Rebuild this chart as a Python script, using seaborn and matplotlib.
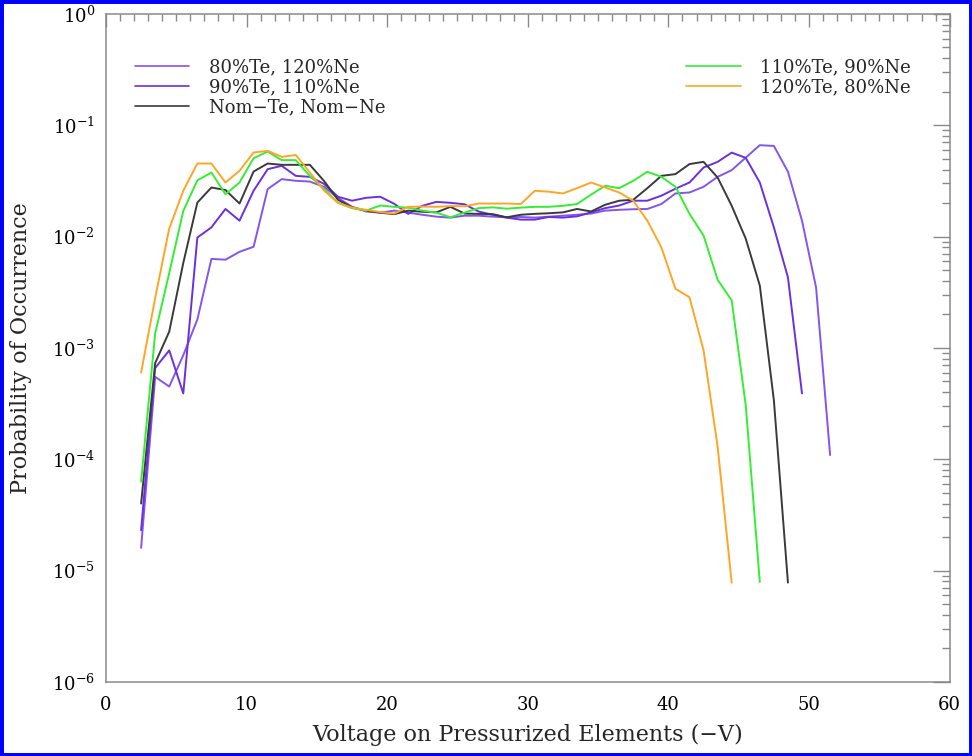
import pandas as pd
import matplotlib
matplotlib.use('Agg')
import matplotlib.pyplot as plt
import seaborn as sns
from matplotlib.patches import Rectangle
from matplotlib.lines import Line2D
from matplotlib.ticker import MultipleLocator, LogLocator, NullFormatter, FixedLocator

# Bin centres (-V)
volts = [2.5, 3.5, 4.5, 5.5, 6.5, 7.5, 8.5, 9.5, 10.5, 11.5,
         12.5, 13.5, 14.5, 15.5, 16.5, 17.5, 18.5, 19.5, 20.5, 21.5,
         22.5, 23.5, 24.5, 25.5, 26.5, 27.5, 28.5, 29.5, 30.5, 31.5,
         32.5, 33.5, 34.5, 35.5, 36.5, 37.5, 38.5, 39.5, 40.5, 41.5,
         42.5, 43.5, 44.5, 45.5, 46.5, 47.5, 48.5, 49.5, 50.5, 51.5]

# Probability of occurrence per case
p_80te = [1.6e-5, 5.5e-4, 4.5e-4, 8.6e-4, 1.8e-3, 6.3e-3, 6.2e-3, 7.3e-3, 8.1e-3, 0.0267,
          0.0328, 0.0317, 0.0312, 0.028, 0.0223, 0.0185, 0.0168, 0.0164, 0.0171, 0.0164,
          0.0157, 0.0151, 0.0148, 0.0154, 0.0154, 0.0151, 0.0149, 0.015, 0.0148, 0.0151,
          0.0154, 0.0157, 0.0161, 0.0171, 0.0174, 0.0176, 0.0177, 0.0196, 0.0244, 0.0249,
          0.028, 0.0344, 0.0395, 0.0512, 0.0662, 0.0652, 0.0383, 0.0139, 0.0035, 1.09e-4]
p_90te = [2.3e-5, 6.6e-4, 9.5e-4, 3.9e-4, 9.8e-3, 0.0121, 0.0177, 0.0139, 0.0258, 0.0403,
          0.0432, 0.0351, 0.0344, 0.0298, 0.0228, 0.021, 0.0223, 0.0228, 0.0197, 0.016,
          0.0189, 0.0205, 0.0201, 0.0195, 0.0168, 0.0157, 0.0148, 0.0142, 0.0142, 0.015,
          0.0148, 0.0152, 0.0165, 0.018, 0.019, 0.021, 0.021, 0.0233, 0.0269, 0.0306,
          0.0417, 0.0469, 0.0568, 0.0509, 0.0306, 0.0121, 0.0043, 3.9e-4]
p_nom = [4.0e-5, 7.3e-4, 1.4e-3, 5.8e-3, 0.0202, 0.0276, 0.0262, 0.0198, 0.0384, 0.0453,
         0.0441, 0.0441, 0.0441, 0.0317, 0.0214, 0.0183, 0.0171, 0.0164, 0.0159, 0.0171,
         0.0167, 0.0165, 0.0185, 0.0161, 0.016, 0.0159, 0.0149, 0.0157, 0.016, 0.0162,
         0.0165, 0.0177, 0.0168, 0.0193, 0.021, 0.0214, 0.0272, 0.0351, 0.0364, 0.0448,
         0.0469, 0.0339, 0.0189, 0.00957, 0.00363, 3.39e-4, 7.8e-6]
p_110te = [6.3e-5, 1.35e-3, 4.7e-3, 0.017, 0.032, 0.0376, 0.024, 0.0306, 0.0506, 0.058,
           0.0486, 0.0486, 0.035, 0.0269, 0.0201, 0.018, 0.0171, 0.019, 0.0185, 0.0182,
           0.0171, 0.0164, 0.0149, 0.0164, 0.018, 0.0183, 0.0178, 0.0182, 0.0185, 0.0185,
           0.0189, 0.0196, 0.0238, 0.0286, 0.0272, 0.0317, 0.0382, 0.0344, 0.028, 0.016,
           0.0102, 0.0041, 0.00267, 3.05e-4, 7.9e-6]
p_120te = [6.0e-4, 2.8e-3, 0.0118, 0.0258, 0.0453, 0.0453, 0.0306, 0.039, 0.0569, 0.0589,
           0.052, 0.054, 0.0376, 0.026, 0.0201, 0.0182, 0.0174, 0.0166, 0.0161, 0.0185,
           0.0186, 0.0185, 0.0188, 0.0187, 0.0198, 0.0198, 0.0198, 0.0196, 0.0258, 0.0253,
           0.0244, 0.0272, 0.0306, 0.0276, 0.0249, 0.021, 0.0139, 0.008, 0.00339, 0.00285,
           9.5e-4, 1.3e-4, 7.8e-6]

labels = ['80%Te, 120%Ne', '90%Te, 110%Ne', 'Nom\u2212Te, Nom\u2212Ne',
          '110%Te, 90%Ne', '120%Te, 80%Ne']
colors = ['#8455EE', '#6A30E0', '#3a3a3a', '#33EE33', '#FFA526']
series = [p_80te, p_90te, p_nom, p_110te, p_120te]
y_major = [1e-6, 1e-5, 1e-4, 1e-3, 1e-2, 1e-1, 1e0]

rows = []
for lab, vals in zip(labels, series):
    for v, p in zip(volts, vals):
        rows.append({'volt': v, 'prob': p, 'case': lab})
df = pd.DataFrame(rows)

sns.set_style('white')
plt.rcParams['font.family'] = ['DejaVu Serif']
plt.rcParams['mathtext.fontset'] = 'dejavuserif'

fig = plt.figure(figsize=(9.72, 7.56), dpi=100)
ax = fig.add_axes([0.109, 0.098, 0.868, 0.8836])

palette = dict(zip(labels, colors))
sns.lineplot(data=df, x='volt', y='prob', hue='case', hue_order=labels,
             palette=palette, estimator=None, sort=False, lw=1.4,
             legend=False, ax=ax)

ax.set_yscale('log')
ax.set_ylim(1e-6, 1)
ax.set_xlim(0, 60)

ax.xaxis.set_major_locator(MultipleLocator(10))
ax.xaxis.set_minor_locator(MultipleLocator(1))
ax.yaxis.set_major_locator(FixedLocator(y_major))
ax.yaxis.set_minor_locator(LogLocator(base=10, subs=range(2, 10), numticks=100))
ax.yaxis.set_minor_formatter(NullFormatter())

gray = '#8a8a8a'
for sp in ax.spines.values():
    sp.set_color(gray)
    sp.set_linewidth(1.1)
ax.tick_params(which='both', direction='in', top=True, right=True,
               color=gray, width=1.0, labelsize=13, labelcolor='black')
ax.tick_params(axis='x', which='major', length=9.5, pad=10)
ax.tick_params(axis='x', which='minor', length=5)
ax.tick_params(axis='y', which='major', length=12, pad=8)
ax.tick_params(axis='y', which='minor', length=6)

ax.set_xlabel('Voltage on Pressurized Elements (\u2212V)', fontsize=16, labelpad=7)
ax.set_ylabel('Probability of Occurrence', fontsize=16, labelpad=14)

handles = [Line2D([], [], color=c, lw=1.2) for c in colors]
leg1 = ax.legend(handles[:3], labels[:3], loc='upper left',
                 bbox_to_anchor=(0.034, 0.934), frameon=False, fontsize=13,
                 handlelength=3.0, handletextpad=1.1, labelspacing=0.12,
                 borderpad=0, borderaxespad=0)
ax.add_artist(leg1)
ax.legend(handles[3:], labels[3:], loc='upper left',
          bbox_to_anchor=(0.688, 0.934), frameon=False, fontsize=13,
          handlelength=3.0, handletextpad=1.1, labelspacing=0.12,
          borderpad=0, borderaxespad=0)

fig.patches.append(Rectangle((0, 0), 1, 1, transform=fig.transFigure,
                             fill=False, edgecolor='#0000ff', lw=5))

fig.savefig('out.png', dpi=100)
